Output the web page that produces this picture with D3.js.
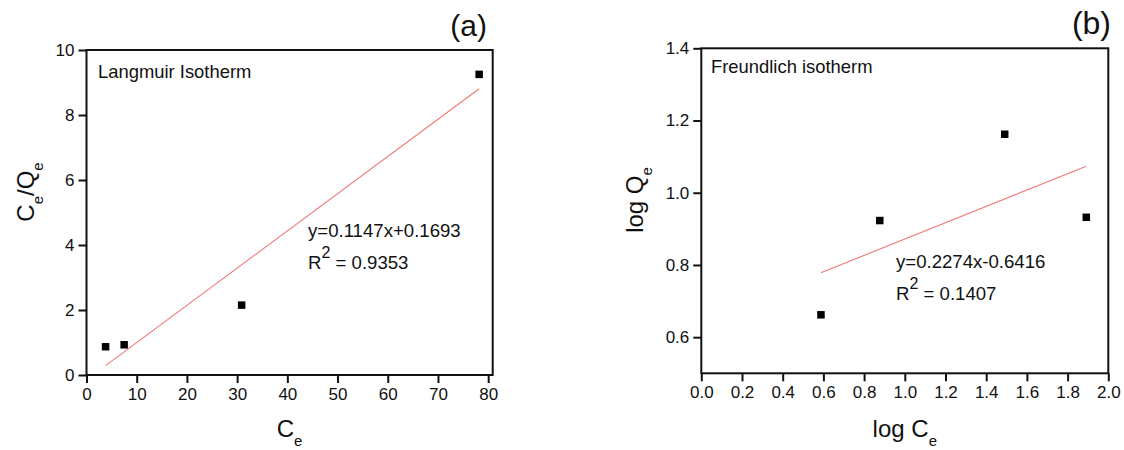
<!DOCTYPE html>
<html>
<head>
<meta charset="utf-8">
<script src="https://cdn.jsdelivr.net/npm/d3@7/dist/d3.min.js"></script>
<style>
  html, body { margin: 0; padding: 0; background: #fff; }
  svg { display: block; font-family: "Liberation Sans", Arial, sans-serif; }
</style>
</head>
<body>
<svg id="chart" width="1124" height="450"></svg>
<script>
// Langmuir isotherm: Ce vs Ce/Qe
const langmuirCe = [3.8, 7.5, 30.9, 78.2];
const langmuirCeQe = [0.87, 0.93, 2.15, 9.25];
const langmuirXTicks = [0, 10, 20, 30, 40, 50, 60, 70, 80];
const langmuirYTicks = [0, 2, 4, 6, 8, 10];

// Freundlich isotherm: log Ce vs log Qe
const freundlichLogCe = [0.588, 0.877, 1.491, 1.892];
const freundlichLogQe = [0.662, 0.923, 1.162, 0.932];
const freundlichXTicks = [0.0, 0.2, 0.4, 0.6, 0.8, 1.0, 1.2, 1.4, 1.6, 1.8, 2.0];
const freundlichYTicks = [0.6, 0.8, 1.0, 1.2, 1.4];

const svg = d3.select("#chart");

// ordinary least-squares fit of y on x
function linearFit(xs, ys) {
  const mx = d3.mean(xs), my = d3.mean(ys);
  const sxy = d3.sum(xs, (x, i) => (x - mx) * (ys[i] - my));
  const sxx = d3.sum(xs, x => (x - mx) * (x - mx));
  const slope = sxy / sxx;
  return { slope, intercept: my - slope * mx };
}

function drawPanel(cfg) {
  const g = svg.append("g");
  const x = d3.scaleLinear().domain(cfg.xDomain).range([cfg.left, cfg.right]);
  const y = d3.scaleLinear().domain(cfg.yDomain).range([cfg.bottom, cfg.top]);

  const xAxis = g.append("g")
    .attr("transform", `translate(0,${cfg.bottom})`)
    .call(d3.axisBottom(x).tickValues(cfg.xTicks).tickFormat(cfg.xFormat)
      .tickSize(8).tickSizeOuter(0).tickPadding(5));
  const yAxis = g.append("g")
    .attr("transform", `translate(${cfg.left},0)`)
    .call(d3.axisLeft(y).tickValues(cfg.yTicks).tickFormat(cfg.yFormat)
      .tickSize(8).tickSizeOuter(0).tickPadding(4));
  [xAxis, yAxis].forEach(a => {
    a.select(".domain").remove();
    a.selectAll("line").attr("stroke", "#111").attr("stroke-width", 2);
    a.selectAll("text").attr("fill", "#111").style("font-size", "17px")
      .style("font-family", "Liberation Sans, Arial, sans-serif");
  });

  // plot frame
  g.append("rect")
    .attr("x", cfg.left).attr("y", cfg.top)
    .attr("width", cfg.right - cfg.left).attr("height", cfg.bottom - cfg.top)
    .attr("fill", "none").attr("stroke", "#111").attr("stroke-width", 2);

  // fitted line across the data range
  const fit = linearFit(cfg.xs, cfg.ys);
  const xr = d3.extent(cfg.xs);
  g.append("path")
    .datum(xr.map(v => [v, fit.slope * v + fit.intercept]))
    .attr("d", d3.line().x(d => x(d[0])).y(d => y(d[1])))
    .attr("fill", "none").attr("stroke", "#f07878").attr("stroke-width", 1.1);

  // data points
  const s = 7.5;
  g.selectAll("rect.pt").data(cfg.xs.map((v, i) => [v, cfg.ys[i]])).join("rect")
    .attr("class", "pt")
    .attr("x", d => x(d[0]) - s / 2).attr("y", d => y(d[1]) - s / 2)
    .attr("width", s).attr("height", s).attr("fill", "#000");

  // name of the isotherm
  g.append("text").attr("x", cfg.nameX).attr("y", cfg.nameY)
    .style("font-size", "18.4px").attr("fill", "#111").text(cfg.name);

  // regression equation and R²
  g.append("text").attr("x", cfg.eqX).attr("y", cfg.eqY)
    .style("font-size", "18.6px").attr("fill", "#111").text(cfg.equation);
  const r2 = g.append("text").attr("x", cfg.eqX).attr("y", cfg.eqY + 32)
    .style("font-size", "18.6px").attr("fill", "#111");
  r2.append("tspan").text("R");
  r2.append("tspan").attr("dy", -11).style("font-size", "16px").text("2");
  r2.append("tspan").attr("dy", 11).text(" = " + cfg.r2);

  // panel letter
  g.append("text").attr("x", cfg.letterX).attr("y", cfg.letterY)
    .attr("text-anchor", "end").style("font-size", cfg.letterSize + "px")
    .attr("fill", "#111").text(cfg.letter);

  // x axis title
  const xt = g.append("text")
    .attr("x", (cfg.left + cfg.right) / 2).attr("y", 437)
    .attr("text-anchor", "middle").style("font-size", "24px").attr("fill", "#111");
  xt.append("tspan").text(cfg.xTitle);
  xt.append("tspan").attr("dy", 9).style("font-size", "15px").text("e");

  // y axis title
  const yt = g.append("text")
    .attr("transform", `translate(${cfg.yTitleX},${cfg.yTitleY}) rotate(-90)`)
    .attr("text-anchor", "middle").style("font-size", "24px").attr("fill", "#111");
  cfg.yTitleParts.forEach(p => {
    const t = yt.append("tspan").text(p.text);
    if (p.sub) t.attr("dy", 9).style("font-size", "15px");
    else if (p.after) t.attr("dy", -9);
  });
}

drawPanel({
  left: 86.5, right: 492.7, top: 50, bottom: 375,
  xDomain: [0, 80.9], yDomain: [0, 10],
  xTicks: langmuirXTicks, yTicks: langmuirYTicks,
  xFormat: d3.format("d"), yFormat: d3.format("d"),
  xs: langmuirCe, ys: langmuirCeQe,
  name: "Langmuir Isotherm", nameX: 98, nameY: 78,
  equation: "y=0.1147x+0.1693", r2: "0.9353", eqX: 308, eqY: 237,
  letter: "(a)", letterX: 487, letterY: 36, letterSize: 30,
  xTitle: "C",
  yTitleX: 34, yTitleY: 192,
  yTitleParts: [{ text: "C" }, { text: "e", sub: true }, { text: "/Q", after: true }, { text: "e", sub: true }]
});

drawPanel({
  left: 701.3, right: 1108.3, top: 48.3, bottom: 373.3,
  xDomain: [0, 2], yDomain: [0.5, 1.4],
  xTicks: freundlichXTicks, yTicks: freundlichYTicks,
  xFormat: d3.format(".1f"), yFormat: d3.format(".1f"),
  xs: freundlichLogCe, ys: freundlichLogQe,
  name: "Freundlich isotherm", nameX: 711, nameY: 73,
  equation: "y=0.2274x-0.6416", r2: "0.1407", eqX: 896, eqY: 268,
  letter: "(b)", letterX: 1111, letterY: 34, letterSize: 32,
  xTitle: "log C",
  yTitleX: 643, yTitleY: 200,
  yTitleParts: [{ text: "log Q" }, { text: "e", sub: true }]
});
</script>
</body>
</html>
